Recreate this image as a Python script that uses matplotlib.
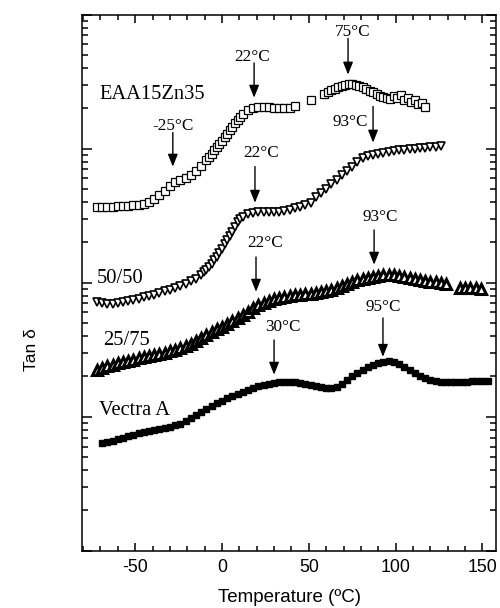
import matplotlib
matplotlib.use('Agg')
import matplotlib.pyplot as plt
from matplotlib.ticker import MultipleLocator, LogLocator, NullFormatter

# ---- fonts: Times-like for in-plot labels, Arial-like for axes ----
plt.rcParams['font.family'] = ['Liberation Sans', 'DejaVu Sans']
plt.rcParams['axes.unicode_minus'] = False
SERIF = ['Liberation Serif', 'DejaVu Serif']

# ======================== tan delta data ========================
eaa_temp = [-72, -69, -66, -63, -60, -57, -54, -51, -48, -45, -42, -39, -36, -33,
            -30, -27, -24, -21, -18, -15, -12, -9, -7.5, -6, -4.5, -3, -1.5, 0,
            1.5, 3, 4.5, 6, 7.5, 9, 10.5, 12, 15,
            18, 21, 24, 27, 30, 33, 36, 39, 42, 51,
            59, 61, 63, 65, 67, 69, 71, 73, 75, 77, 79, 81, 83, 85, 87, 89,
            91, 93, 95, 97, 99, 101, 103, 105, 107, 109, 111, 113, 115, 117]
eaa_tan = [3.69, 3.69, 3.69, 3.69, 3.76, 3.76, 3.76, 3.82, 3.82, 3.89, 4.02, 4.24,
           4.54, 4.86, 5.30, 5.67, 5.87, 6.08, 6.40, 6.85, 7.47, 8.28, 8.72, 9.18,
           9.75, 10.35, 10.9, 11.48, 12.19, 12.94, 13.74, 14.59, 15.50, 16.47,
           17.34, 18.25, 19.55, 20.23, 20.58, 20.58, 20.58,
           20.23, 20.23, 20.23, 20.23, 20.94, 23.21,
           25.74, 26.63, 27.57, 28.04, 29.02, 29.53, 30.04, 30.56, 30.56, 30.04,
           29.53, 29.02, 28.04, 27.10, 26.63, 25.74, 24.87, 24.44, 24.03, 23.61,
           24.87, 24.03, 25.29, 23.21, 24.03, 22.43, 23.21, 21.67, 22.04, 20.58]

b5050_temp = [-72, -69, -66, -63, -60, -57, -54, -51, -48, -45, -42, -39, -36, -33,
              -30, -27, -24, -21, -18, -15, -12, -10.5, -9, -7.5, -6, -4.5, -3,
              -1.5, 0, 1.5, 3, 4.5, 6, 7.5, 9, 10.5, 12, 15,
              18, 21, 24, 27, 30, 33, 36, 39, 42, 45, 48, 51,
              54, 57, 60, 63, 66, 69, 72, 75, 78, 81, 84, 87, 90, 93, 96, 99,
              102, 105, 108, 111, 114, 117, 120, 123, 126]
b5050_tan = [0.722, 0.709, 0.697, 0.697, 0.709, 0.722, 0.734, 0.747, 0.760, 0.786,
             0.800, 0.814, 0.842, 0.872, 0.887, 0.918, 0.950, 0.983, 1.035, 1.07,
             1.15, 1.20, 1.25, 1.317, 1.39, 1.472, 1.56, 1.675, 1.79, 1.94, 2.09,
             2.243, 2.40, 2.618, 2.85, 2.98, 3.11, 3.27, 3.33, 3.39,
             3.39, 3.39, 3.39, 3.39, 3.45, 3.51, 3.63, 3.69, 3.82, 3.95,
             4.38, 4.70, 5.03, 5.48, 5.87, 6.40, 6.85, 7.34, 8.00, 8.57, 8.87, 9.02,
             9.18, 9.34, 9.50, 9.66, 9.83, 9.83, 10.0, 10.0, 10.17, 10.17, 10.35,
             10.35, 10.53]

b2575_temp = [-72, -69, -66, -63, -60, -57, -54, -51, -48, -45, -42, -39, -36, -33,
              -30, -27, -24, -21, -18, -15, -12, -9, -6, -3, 0, 3, 6, 9, 12, 15,
              18, 21, 24, 27, 30, 33, 36, 39, 42, 45, 48, 51, 54, 57, 60, 63, 66,
              69, 72, 75, 78, 81, 84, 87, 90, 93, 96, 99, 102, 105, 108, 111, 114,
              117, 120, 123, 126, 129, 137, 140, 143, 146, 149]
b2575_tan = [0.224, 0.232, 0.240, 0.244, 0.253, 0.257, 0.262, 0.266, 0.276, 0.280,
             0.285, 0.290, 0.295, 0.300, 0.311, 0.316, 0.327, 0.339, 0.351, 0.369,
             0.389, 0.409, 0.431, 0.454, 0.469, 0.494, 0.521, 0.548, 0.577, 0.608,
             0.651, 0.685, 0.709, 0.734, 0.760, 0.773, 0.786, 0.800, 0.814, 0.814,
             0.828, 0.828, 0.842, 0.857, 0.872, 0.887, 0.918, 0.950, 0.983, 1.017,
             1.053, 1.071, 1.090, 1.109, 1.128, 1.148, 1.148, 1.148, 1.128, 1.109,
             1.090, 1.071, 1.053, 1.035, 1.017, 1.017, 1.000, 0.983,
             0.918, 0.918, 0.918, 0.918, 0.902]

vectra_temp = [-69, -66, -63, -60, -57, -54, -51, -48, -45, -42, -39, -36, -33, -30,
               -27, -24, -21, -18, -15, -12, -9, -6, -3, 0, 3, 6, 9, 12, 15, 18,
               21, 24, 27, 30, 33, 36, 39, 42, 45, 48, 51, 54, 57, 60, 63, 66, 69,
               72, 75, 78, 81, 84, 87, 90, 93, 96, 99, 102, 105, 108, 111, 114,
               117, 120, 123, 126, 129, 132, 135, 138, 141, 144, 147, 150, 153]
vectra_tan = [0.0640, 0.0651, 0.0662, 0.0685, 0.0697, 0.0722, 0.0734, 0.0760,
              0.0773, 0.0786, 0.0800, 0.0814, 0.0828, 0.0842, 0.0872, 0.0887,
              0.0934, 0.0983, 0.1035, 0.109, 0.115, 0.121, 0.127, 0.132, 0.139,
              0.143, 0.148, 0.154, 0.159, 0.165, 0.170, 0.173, 0.176, 0.179, 0.183,
              0.183, 0.183, 0.183, 0.179, 0.176, 0.173, 0.170, 0.167, 0.165, 0.165,
              0.167, 0.176, 0.189, 0.202, 0.213, 0.224, 0.236, 0.244, 0.253, 0.257,
              0.262, 0.257, 0.249, 0.236, 0.224, 0.213, 0.202, 0.196, 0.189, 0.186,
              0.183, 0.183, 0.183, 0.183, 0.183, 0.183, 0.186, 0.186, 0.186, 0.186]

# sample names written next to each curve (temperature, tan delta)
sample_names = ['EAA15Zn35', '50/50', '25/75', 'Vectra A']
name_temp = [-70.3, -72.0, -68.5, -70.9]
name_tan = [25.3, 1.07, 0.369, 0.111]

# transition markers: label, arrow temperature, tan delta at arrow tip
trans_labels = ['-25°C', '22°C', '75°C', '93°C', '22°C', '22°C', '93°C', '30°C', '95°C']
trans_temp = [-28.3, 18.5, 72.6, 87.0, 19.0, 19.6, 87.6, 30.0, 92.7]
trans_tip = [7.34, 24.0, 35.7, 11.1, 3.95, 0.857, 1.363, 0.206, 0.280]
# arrow length and label offset (points)
arrow_len = [24.5, 25, 26, 26, 26, 25, 25, 25, 28]
label_dx = [0, -1.5, 3, -16.5, 4.5, 6.5, 4.5, 6, 0]
label_dy = [29, 29.5, 31, 14.5, 36, 35, 34, 34, 36]

# ======================== figure ========================
fig = plt.figure(figsize=(5.0, 6.08), dpi=100)
ax = fig.add_axes([0.164, 0.094, 0.828, 0.882])

ax.plot(eaa_temp, eaa_tan, ls='none', marker='s', ms=5.2, mfc='white',
        mec='black', mew=0.9)
ax.plot(b5050_temp, b5050_tan, ls='none', marker='v', ms=6.2, mfc='white',
        mec='black', mew=1.2)
ax.plot(b2575_temp, b2575_tan, ls='none', marker='^', ms=6.5, mfc='white',
        mec='black', mew=2.2)
ax.plot(vectra_temp, vectra_tan, color='black', lw=1.8, marker='s', ms=4.5,
        mfc='black', mec='black')

for name, t, v in zip(sample_names, name_temp, name_tan):
    ax.text(t, v, name, family=SERIF, fontsize=14.8, ha='left', va='center')

arrow_style = dict(arrowstyle='-|>,head_length=0.75,head_width=0.3',
                   color='black', lw=1.0, shrinkA=0, shrinkB=0)
for lab, t, v, L, dx, dy in zip(trans_labels, trans_temp, trans_tip,
                                arrow_len, label_dx, label_dy):
    ax.annotate('', xy=(t, v), xytext=(0, L), textcoords='offset points',
                arrowprops=arrow_style)
    ax.annotate(lab, xy=(t, v), xytext=(dx, dy), textcoords='offset points',
                family=SERIF, fontsize=12.3, ha='center', va='center')

# ---- axes ----
ax.set_xlim(-80.6, 157.8)
ax.set_yscale('log')
ax.set_ylim(0.01, 100)

ax.xaxis.set_major_locator(MultipleLocator(50))
ax.xaxis.set_minor_locator(MultipleLocator(10))
ax.yaxis.set_major_locator(LogLocator(base=10))
ax.yaxis.set_minor_locator(LogLocator(base=10, subs=range(2, 10)))
ax.yaxis.set_major_formatter(NullFormatter())
ax.yaxis.set_minor_formatter(NullFormatter())

ax.tick_params(which='both', direction='in', top=True, right=True, width=1.1)
ax.tick_params(axis='x', which='major', length=6, labelsize=12.8, pad=6)
ax.tick_params(axis='x', which='minor', length=3.5)
ax.tick_params(axis='y', which='major', length=7)
ax.tick_params(axis='y', which='minor', length=4.3)
for sp in ax.spines.values():
    sp.set_linewidth(1.1)

ax.set_xlabel('Temperature (ºC)', fontsize=13.5, labelpad=9)
ax.set_ylabel('Tan δ', fontsize=12.5)
ax.yaxis.set_label_coords(-0.105, 0.375)

fig.savefig('out.png', dpi=100)
plt.close(fig)
